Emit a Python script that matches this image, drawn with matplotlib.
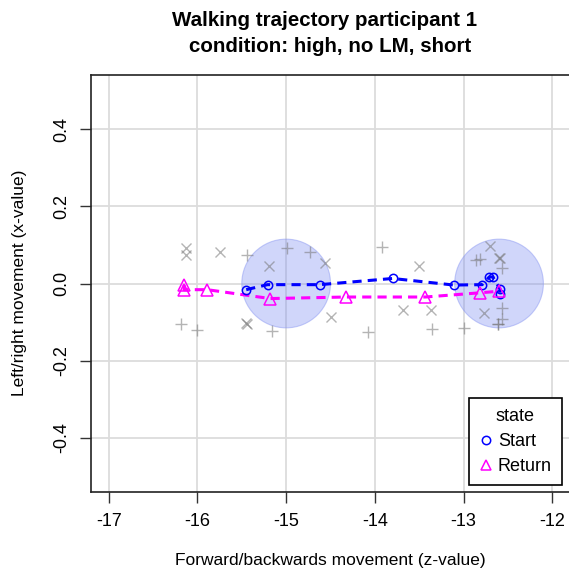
import matplotlib
matplotlib.use("Agg")
from matplotlib import pyplot as plt
from matplotlib.patches import Ellipse
from matplotlib.lines import Line2D
import numpy as np

plt.rcParams['font.family'] = ['Liberation Sans', 'DejaVu Sans']

# start trajectory (blue circles)
start_z = [-15.45, -15.21, -14.62, -13.80, -13.11, -12.79, -12.71, -12.67, -12.59, -12.59]
start_x = [-0.016, -0.003, -0.003, 0.013, -0.004, -0.003, 0.017, 0.017, -0.014, -0.026]

# return trajectory (magenta triangles)
ret_z = [-16.15, -16.15, -15.89, -15.18, -14.33, -13.43, -12.81, -12.60]
ret_x = [-0.004, -0.016, -0.016, -0.039, -0.035, -0.035, -0.024, -0.020]

# raw samples, grey plus
plus_z = [-15.44, -14.99, -14.73, -16.18, -16.01, -15.16, -13.92, -12.82, -12.86, -12.57,
          -12.57, -12.57, -12.61, -12.61, -14.08, -13.36, -13.00]
plus_x = [0.075, 0.093, 0.082, -0.106, -0.120, -0.124, 0.095, 0.064, 0.062, 0.041,
          -0.063, -0.092, -0.106, -0.104, -0.125, -0.118, -0.115]

# raw samples, grey cross
cross_z = [-16.13, -16.13, -15.75, -15.19, -14.56, -15.44, -15.45, -14.49, -13.50, -12.70,
           -12.59, -12.60, -13.68, -13.37, -12.77]
cross_x = [0.093, 0.075, 0.082, 0.045, 0.054, -0.106, -0.102, -0.087, 0.045, 0.097,
           0.067, 0.065, -0.069, -0.069, -0.076]

# landmark zones
zone_z = [-15.0, -12.6]
zone_r = 0.5

fig = plt.figure(figsize=(5.69, 5.75), dpi=100)
ax = fig.add_axes([91/569, 1 - 492/575, 479/569, 417/575])
ax.set_xlim(-17.2, -11.8)
ax.set_ylim(-0.54, 0.54)

for t in [-17, -16, -15, -14, -13, -12]:
    ax.axvline(t, color='#dcdcdc', lw=1.3, zorder=0)
for t in [-0.4, -0.2, 0.0, 0.2, 0.4]:
    ax.axhline(t, color='#dcdcdc', lw=1.3, zorder=0)

# circle in screen space: height scaled by axes aspect
pos = ax.get_position()
w_px = pos.width * 569
h_px = pos.height * 575
px_per_z = w_px / 5.4
px_per_x = h_px / 1.08
for z in zone_z:
    e = Ellipse((z, 0.0), 2 * zone_r, 2 * zone_r * px_per_z / px_per_x,
                facecolor=(0.45, 0.52, 0.95, 0.33), edgecolor=(0.55, 0.6, 0.95, 0.5),
                lw=0.8, zorder=1)
    ax.add_patch(e)

ax.plot(plus_z, plus_x, '+', color='#777777', alpha=0.55, ms=8, mew=1.0, zorder=2)
ax.plot(cross_z, cross_x, 'x', color='#777777', alpha=0.55, ms=7, mew=1.0, zorder=2)

ax.plot(start_z, start_x, '--', color='blue', lw=2.2, dashes=(3, 2), zorder=3)
ax.plot(ret_z, ret_x, '--', color='magenta', lw=2.2, dashes=(3, 2), zorder=3)
ax.plot(start_z, start_x, 'o', mfc='none', mec='blue', ms=6, mew=1.1, zorder=4)
ax.plot(ret_z, ret_x, '^', mfc='none', mec='magenta', ms=8, mew=1.1, zorder=4)

ax.set_xticks([-17, -16, -15, -14, -13, -12])
ax.set_xticklabels(['-17', '-16', '-15', '-14', '-13', '-12'])
ax.set_yticks([-0.4, -0.2, 0.0, 0.2, 0.4])
ax.set_yticklabels(['-0.4', '-0.2', '0.0', '0.2', '0.4'], rotation=90, va='center')
ax.tick_params(axis='both', direction='out', length=8, width=1, color='#333333',
               labelsize=13, pad=7)
for s in ax.spines.values():
    s.set_linewidth(1.2)
    s.set_color('#222222')
ax.spines['right'].set_visible(False)

fig.text(20/569, 1 - 283/575, 'Left/right movement (x-value)', rotation=90,
         ha='center', va='center', fontsize=12.5)
fig.text(330/569, 1 - 561/575, 'Forward/backwards movement (z-value)',
         ha='center', va='center', fontsize=12.5)
fig.text(325/569, 1 - 20/575, 'Walking trajectory participant 1', ha='center',
         va='center', fontsize=14.8, fontweight='bold')
fig.text(330/569, 1 - 46/575, 'condition: high, no LM, short', ha='center',
         va='center', fontsize=14.8, fontweight='bold')

handles = [Line2D([], [], ls='none', marker='o', mfc='none', mec='blue', ms=6, mew=1.1),
           Line2D([], [], ls='none', marker='^', mfc='none', mec='magenta', ms=7.5, mew=1.1)]
leg = fig.legend(handles, ['Start', 'Return'], title='state', loc='upper left',
                 bbox_to_anchor=(469/569, 1 - 398/575), fontsize=13, title_fontsize=13,
                 fancybox=False, edgecolor='black', framealpha=1, borderpad=0.55,
                 handletextpad=0.25, handlelength=0.8, labelspacing=0.45, borderaxespad=0)
leg.get_frame().set_linewidth(1.2)
leg._legend_box.align = 'center'

fig.savefig('out.png', dpi=100)
